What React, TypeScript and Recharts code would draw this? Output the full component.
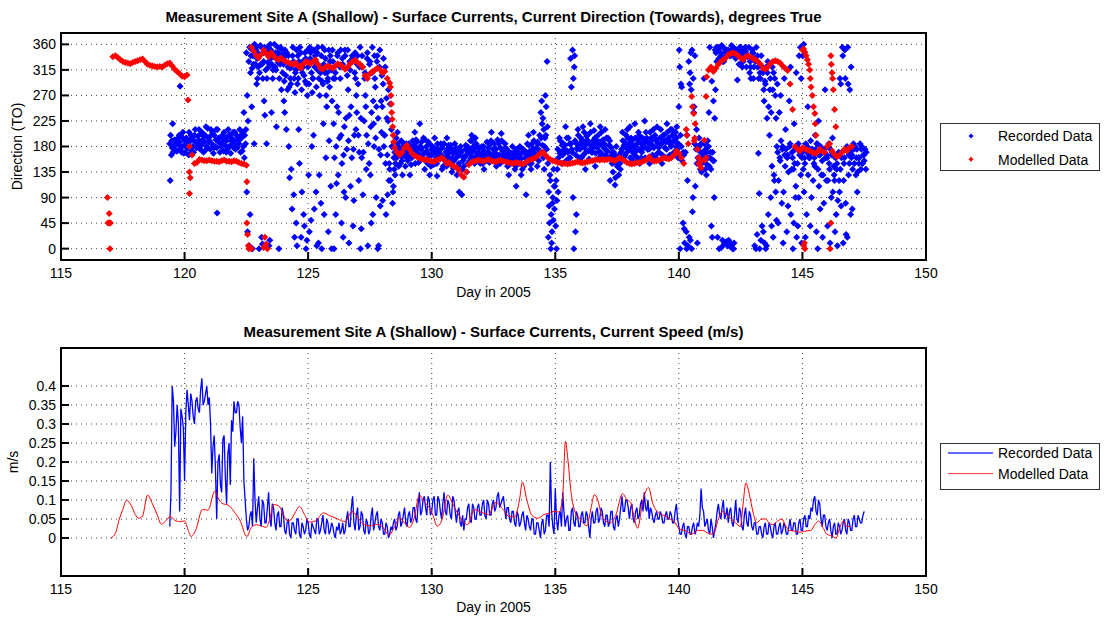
import React from 'react';
import { ScatterChart, Scatter, LineChart, Line, XAxis, YAxis, CartesianGrid, Legend } from 'recharts';

const N = null;
const FONT = "'Liberation Sans', Arial, Helvetica, sans-serif";

const dayTicks = [115, 120, 125, 130, 135, 140, 145, 150];
const directionTicks = [0, 45, 90, 135, 180, 225, 270, 315, 360];
const speedTicks = [0, 0.05, 0.1, 0.15, 0.2, 0.25, 0.3, 0.35, 0.4];
const seriesNames = ['Recorded Data', 'Modelled Data'];
const seriesColors = ['#0000ff', '#ff0000'];
const directionTitle = 'Measurement Site A (Shallow) - Surface Currents, Current Direction (Towards), degrees True';
const speedTitle = 'Measurement Site A (Shallow) - Surface Currents, Current Speed (m/s)';
const xLabelText = 'Day in 2005';
const directionYLabel = 'Direction (TO)';
const speedYLabel = 'm/s';

// Recorded direction (deg), samples every 0.1 day from day 119.4 (six sample layers)
const recordedDirStart = 119.4;
const recordedDirA = [
  185, 178, 192, 172, 188, 180,
  182, 178, 188, 195, 200, 185, 190, 205, 188, 180,
  190, 185, 200, 178, 195, 185, 205, 190, 180, 195,
  190, 200, 185, 195, 240, 345, 330, 352, 340, 355,
  340, 355, 330, 345, 320, 350, 338, 315, 345, 330,
  325, 305, 340, 290, 330, 315, 300, 345, 320, 335,
  320, 345, 300, 330, 355, 310, 290, 335, 300, 340,
  330, 310, 345, 300, 325, 340, 350, 315, 335, 345,
  340, 355, 320, 310, 345, 330, 355, 300, 340, 350,
  250, 200, 165, 140, 180, 170, 165, 175, 155, 168,
  170, 182, 160, 175, 188, 165, 178, 158, 172, 185,
  165, 178, 150, 172, 160, 185, 145, 168, 175, 155,
  160, 150, 170, 145, 165, 178, 160, 175, 185, 168,
  165, 180, 155, 170, 190, 160, 175, 185, 158, 172,
  160, 172, 150, 165, 145, 170, 158, 175, 150, 165,
  165, 175, 160, 185, 170, 230, 270, 150, 120, 90,
  155, 175, 190, 165, 182, 170, 160, 350, 190, 178,
  175, 190, 168, 200, 182, 170, 195, 178, 188, 165,
  180, 172, 190, 150, 165, 145, 160, 175, 188, 170,
  175, 190, 165, 185, 200, 170, 180, 195, 175, 190,
  180, 192, 170, 185, 200, 175, 190, 182, 170, 195,
  250, 180, 165, 30, 330, 280, 240, 175, 160, 185,
  165, 150, 180, 140, 260, 345, 350, 340, 355, 338,
  350, 340, 355, 335, 345, 355, 330, 348, 340, 320,
  345, 330, 320, 300, 310, 290, 330, 300, 280, 270,
  170, 155, 180, 145, 165, 185, 160, 175, 150, 170,
  170, 150, 180, 160, 175, 145, 185, 165, 155, 175,
  160, 140, 170, 120, 150, 100, 170, 160, 180, 150,
  165, 150, 175, 160, 180, 155,
];
const recordedDirB = [
  200, 170, 183, 195, 175, 205,
  170, 192, 175, 180, 210, 198, 175, 192, 200, 212,
  175, 205, 180, 210, 170, 200, 182, 175, 200, 185,
  205, 178, 210, 172, 200, 270, 355, 318, 360, 335,
  310, 325, 355, 300, 348, 325, 360, 340, 300, 352,
  295, 345, 285, 320, 300, 350, 330, 280, 305, 290,
  290, 310, 350, 285, 300, 340, 325, 270, 350, 315,
  220, 180, 240, 200, 165, 230, 190, 250, 175, 210,
  200, 230, 170, 250, 185, 215, 260, 195, 230, 165,
  290, 150, 225, 120, 100, 150, 185, 150, 180, 145,
  155, 165, 190, 150, 168, 180, 160, 192, 150, 165,
  180, 150, 185, 158, 178, 155, 175, 150, 160, 185,
  175, 165, 140, 160, 180, 155, 190, 150, 168, 178,
  180, 158, 188, 152, 165, 185, 150, 165, 190, 160,
  175, 148, 168, 155, 175, 150, 168, 145, 170, 182,
  150, 190, 178, 155, 195, 210, 250, 100, 60, 140,
  120, 160, 170, 185, 155, 195, 185, 300, 165, 200,
  195, 165, 185, 172, 205, 190, 168, 200, 170, 192,
  165, 195, 160, 135, 125, 155, 140, 190, 165, 195,
  160, 170, 195, 160, 175, 195, 160, 175, 205, 165,
  200, 168, 195, 165, 178, 205, 165, 200, 190, 175,
  320, 155, 10, 200, 290, 350, 185, 150, 180, 150,
  185, 170, 145, 295, 90, 330, 0, 358, 8, 350,
  5, 358, 10, 350, 325, 340, 350, 320, 355, 335,
  320, 355, 300, 340, 280, 320, 250, 240, 310, 230,
  120, 190, 100, 175, 135, 60, 140, 110, 185, 130,
  140, 185, 130, 190, 120, 175, 140, 180, 130, 160,
  120, 175, 100, 160, 85, 140, 340, 300, 355, 170,
  140, 180, 135, 185, 150, 175,
];
const recordedDirC = [
  165, 190, 172, 182, 198, 168,
  195, 165, 200, 170, 188, 178, 202, 170, 215, 195,
  210, 168, 192, 188, 185, 172, 195, 210, 168, 205,
  175, 195, 170, 205, 185, 225, 310, 340, 325, 345,
  358, 300, 345, 328, 360, 300, 320, 355, 325, 310,
  350, 280, 318, 340, 275, 290, 355, 310, 345, 270,
  355, 275, 320, 345, 270, 295, 350, 310, 285, 260,
  160, 250, 195, 150, 215, 175, 235, 160, 200, 240,
  170, 160, 225, 200, 150, 240, 180, 250, 175, 205,
  180, 265, 120, 210, 160, 195, 145, 190, 170, 185,
  185, 148, 172, 192, 152, 175, 195, 170, 188, 145,
  148, 168, 160, 185, 145, 170, 160, 182, 142, 170,
  145, 180, 155, 175, 150, 190, 172, 195, 155, 150,
  150, 170, 165, 185, 155, 175, 192, 150, 172, 185,
  145, 165, 180, 140, 160, 180, 140, 160, 185, 150,
  185, 160, 145, 200, 220, 180, 330, 45, 30, 70,
  85, 195, 150, 175, 195, 160, 175, 320, 185, 160,
  160, 205, 198, 158, 170, 208, 182, 160, 205, 178,
  195, 160, 178, 170, 180, 130, 170, 160, 200, 180,
  195, 155, 180, 205, 160, 185, 205, 160, 185, 210,
  160, 185, 210, 200, 160, 188, 210, 165, 205, 160,
  200, 45, 170, 5, 15, 90, 110, 160, 140, 170,
  140, 190, 160, 170, 350, 20, 355, 15, 345, 5,
  340, 0, 345, 297, 355, 320, 345, 338, 310, 350,
  5, 25, 0, 40, 10, 230, 200, 145, 120, 180,
  240, 80, 300, 30, 260, 140, 220, 20, 340, 10,
  100, 60, 160, 90, 150, 30, 110, 130, 80, 120,
  185, 90, 145, 60, 170, 75, 120, 25, 130, 320,
  185, 130, 160, 140, 165, 140,
];
const recordedDirD = [
  120, 220, N, N, 286, N,
  N, N, N, N, N, N, N, N, N, N,
  N, N, N, 63, N, N, N, N, N, N,
  N, N, N, N, 160, 100, 5, 250, 185, 290,
  0, 20, 260, 185, 5, 240, N, 215, 0, 280,
  260, 210, 180, 140, 95, 45, 210, 20, 60, 0,
  130, 50, 200, 100, 10, 80, 220, 160, 30, 110,
  300, 60, 130, 350, 20, 90, 280, 110, 40, 300,
  290, 0, 95, 270, 5, 130, 60, 285, 0, 75,
  85, 320, 95, 255, 80, 130, 205, N, 130, N,
  N, 130, N, 205, N, 220, N, 140, N, 130,
  N, 195, 128, N, 140, N, 195, N, 135, N,
  130, 100, 95, N, 135, N, 200, N, N, N,
  N, 140, N, N, 205, N, 145, N, 203, N,
  N, 130, N, N, 110, N, 130, N, 95, 200,
  140, 205, N, 175, 240, 160, 200, 20, 0, 50,
  40, 100, N, N, 215, N, 335, 90, 30, 210,
  N, 215, 140, N, 220, N, 145, N, 215, N,
  210, N, 120, N, 112, N, 150, 205, N, 210,
  215, N, 220, N, 150, N, 225, N, 150, N,
  N, 215, N, 150, N, 220, N, 210, N, 215,
  350, 285, 35, 0, 20, 0, 250, 210, 195, 135,
  300, 130, 240, 40, 155, 355, 335, 2, 330, 12,
  15, 8, 0, N, N, N, N, N, N, 300,
  300, 0, 168, 15, 30, 0, 60, 90, 20, 100,
  45, 270, 10, 210, 75, 320, 0, 90, 40, 355,
  340, 20, 250, 40, N, 200, 0, 70, 20, 280,
  40, 10, 195, 30, 5, 300, 355, 350, 20, 280,
  70, N, 100, N, N, N,
];
const recordedDirE = [
  N, N, N, N, N, N,
  N, N, N, N, N, N, N, N, N, N,
  N, N, N, N, N, N, N, N, N, N,
  N, N, N, N, N, 30, 60, 0, N, 300,
  N, 8, 235, N, 15, N, N, N, N, N,
  240, N, 125, 70, 20, 5, 150, 100, 40, 15,
  30, 180, 70, 5, 130, 0, 60, 250, 190, 0,
  0, 115, N, 45, 100, N, 10, N, 85, 270,
  120, 35, N, 140, N, 45, 220, 90, 5, 260,
  335, 60, 280, N, 110, N, N, N, N, N,
  N, N, N, N, N, N, N, N, N, N,
  N, N, N, N, N, N, N, N, N, N,
  N, N, N, N, N, N, N, N, N, N,
  N, N, N, N, N, N, N, N, N, N,
  N, N, N, N, N, N, N, N, N, N,
  N, N, N, N, 260, 140, 175, 75, 10, 110,
  0, N, N, N, N, N, 285, 0, 60, N,
  N, N, N, N, N, N, N, N, N, N,
  N, N, N, N, N, N, N, N, N, N,
  N, N, N, N, N, N, N, N, N, N,
  N, N, N, N, N, N, N, N, N, N,
  0, N, N, 120, 310, 65, 340, 10, N, N,
  N, N, 355, 20, 230, N, N, N, N, N,
  N, N, N, N, N, N, N, N, N, N,
  N, N, 97, N, 260, 5, N, 40, 130, 50,
  N, N, N, N, N, N, 45, 310, 90, 300,
  360, N, N, N, N, N, 225, N, N, N,
  N, N, N, N, N, 290, 10, 80, 290, 60,
  N, N, N, N, N, N,
];
const recordedDirF = [
  190, 176, 186, 200, 170, 192,
  188, 205, 170, 190, 178, 210, 182, 198, 175, 188,
  200, 178, 210, 195, 180, 192, 170, 200, 190, 178,
  182, 190, 200, 180, 210, N, 340, 325, 350, 320,
  325, 345, 315, 355, 335, 315, 345, 328, 355, 342,
  340, 320, 300, 355, 310, 340, 318, 330, 295, 350,
  335, 300, 340, 315, 320, 355, 310, 295, 330, 350,
  300, 340, 320, 335, 350, 305, 330, 340, 310, 325,
  320, 340, 300, 335, 325, 310, 340, 330, 320, 305,
  200, 230, 150, 180, 140, 160, 178, 162, 185, 160,
  162, 175, 182, 168, 178, 188, 168, 180, 165, 175,
  172, 160, 175, 165, 185, 162, 182, 158, 168, 178,
  168, 172, 160, 182, 172, 165, 180, 162, 178, 160,
  172, 165, 178, 160, 175, 168, 162, 178, 165, 178,
  168, 158, 162, 172, 168, 160, 175, 168, 162, 172,
  175, 168, 188, 170, 182, 195, 215, 130, 80, 110,
  140, 168, 182, 170, 172, 185, 170, 340, 175, 185,
  185, 178, 192, 185, 175, 182, 190, 170, 182, 185,
  172, 182, 168, 160, 150, 165, 175, 182, 178, 185,
  185, 178, 172, 192, 185, 178, 190, 185, 195, 178,
  190, 178, 185, 192, 188, 195, 180, 190, 180, 185,
  290, 170, N, N, 345, 300, N, 180, 170, 160,
  175, 160, 170, 155, 280, 355, 345, 330, 350, 345,
  345, 352, 338, 345, 350, 330, 355, 340, 330, 345,
  335, 340, 310, 320, 295, 310, 280, 320, 300, 290,
  160, 175, 165, 160, 180, 170, 150, 180, 165, 160,
  160, 170, 165, 175, 160, 185, 165, 175, 170, 165,
  150, 165, 130, 140, 120, 160, 150, 175, 165, 160,
  175, 160, 150, 175, 165, 170,
];

// Modelled direction (deg), every 0.1 day from day 117.1
const modelledDirStart = 117.1;
const modelledDir = [
  338, 340, 337, 333, 330, 328, 327, 326, 328,
  330, 331, 333, 334, 330, 325, 323, 322, 321, 320,
  321, 320, 323, 326, 327, 322, 316, 312, 308, 304,
  303, 306, 180, 165, 150, 152, 157, 156, 155, 155,
  156, 155, 154, 154, 153, 155, 156, 154, 154, 153,
  155, 154, 152, 150, 149, 147, N, 355, 348, 340,
  336, 342, 350, 344, 338, 345, 340, 335, 333, 336,
  332, 330, 328, 326, 325, 327, 322, 318, 325, 330,
  328, 326, 330, 333, 325, 318, 316, 320, 322, 320,
  318, 322, 326, 324, 320, 316, 320, 326, 330, 332,
  328, 325, 320, 305, 300, 308, 312, 315, 318, 316,
  310, 312, 300, 292, N, 178, 170, 165, 170, 178,
  182, 175, 168, 164, 162, 160, 158, 156, 157, 155,
  154, 153, 156, 158, 160, 157, 150, 152, 148, 145,
  143, 138, 130, 126, 135, 148, 152, 154, 155, 156,
  155, 154, 156, 157, 155, 154, 153, 155, 156, 154,
  153, 152, 151, 150, 152, 151, 150, 149, 152, 155,
  157, 158, 160, 164, 168, 170, 165, 160, 157, 155,
  154, 152, 151, 150, 150, 149, 150, 151, 152, 153,
  152, 151, 152, 153, 154, 155, 156, 157, 156, 157,
  156, 157, 158, 156, 155, 157, 160, 158, 155, 152,
  150, 149, 150, 152, 151, 153, 155, 157, 162, 156,
  154, 155, 156, 158, 160, 159, 158, 160, 165, 172,
  168, 160, 150, N, N, N, N, N, 150, 142,
  N, 160, 315, 320, 312, 318, 325, 330, 333, 336,
  342, 344, 345, 343, 340, 336, 333, 338, 340, 338,
  335, 333, 330, 325, 318, 316, 320, 326, 330, 331,
  330, 327, 322, 318, 314, 290, 245, 180, 175, 172,
  178, 176, 174, 172, 170, 168, 170, 175, 172, 170,
  180, 185, 172, 166, 162, 165, 170, 175, 172, 178,
  180,
];
const modelledExtraDays = [
  116.88, 116.95, 116.9, 116.95, 117.0, 116.98,
  120.14, 120.2, 120.23, 120.2,
  122.52, 122.52, 122.55, 122.58, 122.6, 122.65, 122.7,
  123.2, 123.25, 123.3, 123.35,
  128.33, 128.35, 128.37, 128.38, 128.4, 128.42, 128.44, 128.46,
  140.3, 140.32, 140.38, 140.52, 140.55, 140.6, 140.66, 140.64, 140.62, 140.75, 140.8, 140.85, 140.9, 141.03, 141.05, 141.1, 141.13,
  145.0, 145.05, 145.1, 145.15, 145.2, 145.25, 145.3, 145.32, 145.35, 145.4, 145.45, 145.5, 145.52, 145.55, 145.05, 145.1, 145.08,
  146.15, 146.17, 146.2, 146.22, 146.25, 146.3, 146.35, 146.15, 146.12,
];
const modelledExtraDirs = [
  90, 62, 45, 45, 45, 0,
  262, 135, 125, 97,
  118, 45, 25, 5, 0, 2, 0,
  2, 20, 8, 0,
  285, 270, 255, 240, 228, 215, 200, 188,
  210, 200, 185, 268, 250, 238, 220, 195, 190, 175, 160, 148, 155, 191, 156, 268, 303,
  350, 352, 346, 340, 333, 325, 315, 300, 285, 270, 250, 238, 220, 200, 5, 0, 10,
  340, 325, 310, 300, 280, 245, 215, 45, 0,
];

// Recorded speed (m/s): values at day 119.4 + 0.1*i (A) and at 119.45 + 0.1*i (B)
const recordedSpeedStart = 119.4;
const recordedSpeedA = [
  0.03, 0.40, 0.24, 0.35, 0.07, 0.32,
  0.15, 0.39, 0.31, 0.36, 0.30, 0.37, 0.33, 0.42, 0.36, 0.40,
  0.37, 0.17, 0.27, 0.05, 0.22, 0.12, 0.27, 0.09, 0.25, 0.31,
  0.36, 0.33, 0.35, 0.25, 0.15, 0.05, 0.03, 0.07, 0.21, 0.04,
  0.11, 0.03, 0.09, 0.04, 0.12, 0.03, 0.08, 0.02, 0.07, 0.03,
  0.06, 0.01, 0.05, 0.00, 0.04, 0.01, 0.05, 0.00, 0.03, 0.02,
  0.04, 0.00, 0.03, 0.01, 0.05, 0.02, 0.06, 0.01, 0.04, 0.02,
  0.03, 0.00, 0.02, 0.01, 0.04, 0.02, 0.07, 0.03, 0.11, 0.02,
  0.08, 0.03, 0.06, 0.01, 0.04, 0.02, 0.08, 0.04, 0.07, 0.02,
  0.04, 0.01, 0.03, 0.01, 0.02, 0.05, 0.03, 0.07, 0.04, 0.08,
  0.03, 0.07, 0.05, 0.08, 0.04, 0.12, 0.07, 0.11, 0.06, 0.10,
  0.07, 0.11, 0.06, 0.10, 0.05, 0.12, 0.06, 0.09, 0.05, 0.10,
  0.04, 0.08, 0.03, 0.02, 0.05, 0.09, 0.04, 0.08, 0.05, 0.09,
  0.06, 0.10, 0.05, 0.09, 0.06, 0.10, 0.08, 0.12, 0.09, 0.11,
  0.05, 0.08, 0.04, 0.07, 0.03, 0.06, 0.04, 0.07, 0.02, 0.05,
  0.02, 0.05, 0.01, 0.04, 0.00, 0.05, 0.02, 0.06, 0.20, 0.03,
  0.13, 0.02, 0.07, 0.12, 0.03, 0.06, 0.02, 0.08, 0.03, 0.06,
  0.03, 0.07, 0.04, 0.06, 0.00, 0.07, 0.04, 0.08, 0.05, 0.07,
  0.03, 0.06, 0.04, 0.07, 0.02, 0.06, 0.05, 0.11, 0.07, 0.10,
  0.05, 0.09, 0.04, 0.08, 0.06, 0.10, 0.12, 0.07, 0.05, 0.07,
  0.04, 0.07, 0.05, 0.06, 0.04, 0.07, 0.05, 0.06, 0.04, 0.09,
  0.03, 0.01, 0.04, 0.00, 0.03, 0.01, 0.04, 0.02, 0.03, 0.13,
  0.07, 0.04, 0.02, 0.05, 0.00, 0.04, 0.09, 0.05, 0.10, 0.06,
  0.04, 0.08, 0.03, 0.10, 0.04, 0.07, 0.02, 0.08, 0.03, 0.06,
  0.02, 0.04, 0.01, 0.03, 0.00, 0.04, 0.01, 0.03, 0.00, 0.04,
  0.01, 0.04, 0.02, 0.03, 0.01, 0.05, 0.02, 0.04, 0.01, 0.05,
  0.02, 0.06, 0.03, 0.05, 0.07, 0.11, 0.06, 0.09, 0.03, 0.06,
  0.02, 0.05, 0.00, 0.04, 0.01, 0.03, 0.02, 0.05, 0.01, 0.04,
  0.02, 0.06, 0.03, 0.05, 0.04, 0.07,
];
const recordedSpeedB = [
  0.12, 0.36, 0.28, 0.30, 0.34, 0.29,
  0.33, 0.35, 0.38, 0.32, 0.36, 0.34, 0.39, 0.35, 0.38, 0.35,
  0.30, 0.24, 0.18, 0.20, 0.14, 0.26, 0.16, 0.22, 0.14, 0.28,
  0.33, 0.36, 0.29, 0.32, 0.10, 0.02, 0.06, 0.03, 0.10, 0.08,
  0.05, 0.10, 0.04, 0.08, 0.05, 0.09, 0.04, 0.06, 0.03, 0.08,
  0.02, 0.04, 0.01, 0.04, 0.02, 0.05, 0.01, 0.04, 0.01, 0.05,
  0.01, 0.04, 0.02, 0.05, 0.01, 0.04, 0.02, 0.05, 0.01, 0.04,
  0.01, 0.03, 0.04, 0.02, 0.01, 0.05, 0.03, 0.08, 0.04, 0.06,
  0.02, 0.07, 0.02, 0.05, 0.01, 0.06, 0.02, 0.06, 0.03, 0.05,
  0.01, 0.04, 0.00, 0.03, 0.04, 0.02, 0.06, 0.03, 0.06, 0.04,
  0.06, 0.04, 0.08, 0.05, 0.09, 0.06, 0.10, 0.08, 0.11, 0.06,
  0.10, 0.06, 0.11, 0.07, 0.09, 0.07, 0.10, 0.06, 0.11, 0.07,
  0.07, 0.04, 0.06, 0.05, 0.08, 0.05, 0.09, 0.05, 0.08, 0.06,
  0.09, 0.06, 0.10, 0.06, 0.09, 0.07, 0.11, 0.08, 0.10, 0.08,
  0.08, 0.05, 0.07, 0.04, 0.07, 0.03, 0.06, 0.04, 0.06, 0.03,
  0.05, 0.01, 0.04, 0.02, 0.04, 0.01, 0.06, 0.03, 0.07, 0.01,
  0.05, 0.06, 0.03, 0.07, 0.05, 0.02, 0.07, 0.04, 0.07, 0.03,
  0.06, 0.04, 0.07, 0.03, 0.05, 0.04, 0.07, 0.04, 0.08, 0.04,
  0.06, 0.03, 0.07, 0.03, 0.05, 0.03, 0.08, 0.07, 0.10, 0.08,
  0.08, 0.05, 0.07, 0.05, 0.09, 0.07, 0.08, 0.10, 0.08, 0.05,
  0.06, 0.05, 0.07, 0.04, 0.06, 0.05, 0.07, 0.04, 0.07, 0.05,
  0.01, 0.03, 0.01, 0.03, 0.01, 0.03, 0.01, 0.04, 0.06, 0.08,
  0.03, 0.05, 0.01, 0.03, 0.02, 0.07, 0.06, 0.08, 0.05, 0.08,
  0.07, 0.04, 0.06, 0.05, 0.08, 0.03, 0.06, 0.04, 0.07, 0.03,
  0.04, 0.01, 0.03, 0.01, 0.03, 0.01, 0.04, 0.01, 0.03, 0.01,
  0.03, 0.01, 0.04, 0.01, 0.03, 0.02, 0.04, 0.01, 0.04, 0.02,
  0.05, 0.03, 0.06, 0.08, 0.10, 0.07, 0.10, 0.05, 0.06, 0.03,
  0.04, 0.02, 0.03, 0.01, 0.04, 0.01, 0.04, 0.02, 0.05, 0.02,
  0.05, 0.03, 0.06, 0.04, 0.06,
];

// Modelled speed (m/s)
const modelledSpeedDays = [
  117.0, 117.2, 117.35, 117.5, 117.65, 117.85, 118.0, 118.15, 118.3, 118.5, 118.7, 118.9,
  119.06, 119.25, 119.42, 119.6, 119.8, 120.0, 120.15, 120.26, 120.45, 120.72, 120.95, 121.22,
  121.4, 121.55, 121.75, 122.0, 122.25, 122.52, 122.7, 122.9, 123.1, 123.3, 123.45, 123.6,
  123.8, 124.0, 124.15, 124.3, 124.5, 124.65, 124.85, 125.05, 125.3, 125.62, 125.9, 126.2,
  126.5, 126.77, 127.0, 127.2, 127.5, 127.8, 128.0, 128.28, 128.5, 128.7, 128.9, 129.1,
  129.3, 129.5, 129.7, 129.9, 130.05, 130.22, 130.4, 130.65, 130.85, 131.05, 131.25, 131.45,
  131.73, 132.0, 132.3, 132.6, 132.85, 133.1, 133.35, 133.55, 133.67, 133.85, 134.05, 134.3,
  134.55, 134.75, 134.95, 135.15, 135.3, 135.41, 135.52, 135.62, 135.77, 136.0, 136.28, 136.45,
  136.58, 136.72, 136.87, 137.05, 137.23, 137.45, 137.72, 137.9, 138.04, 138.2, 138.33, 138.55,
  138.77, 138.95, 139.2, 139.45, 139.64, 139.85, 140.0, 140.3, 140.52, 140.75, 140.96, 141.2,
  141.4, 141.6, 141.76, 141.95, 142.12, 142.3, 142.49, 142.6, 142.71, 142.8, 142.93, 143.05,
  143.15, 143.35, 143.51, 143.65, 143.8, 144.0, 144.17, 144.3, 144.46, 144.7, 144.9, 145.1,
  145.34, 145.5, 145.66, 145.85, 145.99, 146.2, 146.36, 146.5, 146.65, 146.8, 146.94,
];
const modelledSpeed = [
  0.000, 0.012, 0.048, 0.075, 0.099, 0.085, 0.062, 0.052, 0.058, 0.113, 0.090, 0.060,
  0.036, 0.046, 0.057, 0.047, 0.043, 0.045, 0.020, 0.004, 0.020, 0.075, 0.073, 0.123,
  0.100, 0.090, 0.087, 0.070, 0.045, 0.004, 0.028, 0.035, 0.032, 0.028, 0.050, 0.088,
  0.085, 0.062, 0.045, 0.048, 0.070, 0.083, 0.062, 0.042, 0.045, 0.066, 0.058, 0.050,
  0.043, 0.070, 0.055, 0.038, 0.032, 0.036, 0.030, 0.008, 0.030, 0.053, 0.040, 0.028,
  0.055, 0.113, 0.095, 0.080, 0.060, 0.031, 0.045, 0.113, 0.090, 0.065, 0.045, 0.035,
  0.075, 0.068, 0.062, 0.094, 0.078, 0.058, 0.055, 0.100, 0.147, 0.100, 0.060, 0.052,
  0.062, 0.065, 0.070, 0.068, 0.110, 0.254, 0.200, 0.130, 0.075, 0.050, 0.032, 0.080,
  0.114, 0.100, 0.060, 0.045, 0.040, 0.060, 0.117, 0.100, 0.095, 0.050, 0.026, 0.100,
  0.133, 0.090, 0.065, 0.058, 0.050, 0.040, 0.025, 0.018, 0.010, 0.020, 0.020, 0.012,
  0.010, 0.050, 0.070, 0.060, 0.050, 0.040, 0.030, 0.090, 0.145, 0.130, 0.090, 0.055,
  0.040, 0.050, 0.050, 0.040, 0.035, 0.045, 0.050, 0.035, 0.020, 0.018, 0.015, 0.018,
  0.020, 0.035, 0.045, 0.025, 0.010, 0.005, 0.000, 0.025, 0.045, 0.030, 0.030,
];

// ---- building the point tables from the arrays above ----
const STEP = 0.1;
const layerOffsets = [0, 0.033, 0.067, 0.017, 0.05, 0.083];
type Pt = { x: number; y: number };
const gridToPoints = (start: number, values: (number | null)[], offset = 0): Pt[] => {
  const out: Pt[] = [];
  values.forEach((v, i) => {
    if (v !== null && v !== undefined) out.push({ x: +(start + i * STEP + offset).toFixed(3), y: v });
  });
  return out;
};
const recordedDirPoints: Pt[] = [recordedDirA, recordedDirB, recordedDirC, recordedDirD, recordedDirE, recordedDirF].flatMap((layer, k) =>
  gridToPoints(recordedDirStart, layer, layerOffsets[k])
);
const modelledDirPoints: Pt[] = [
  ...gridToPoints(modelledDirStart, modelledDir),
  ...modelledExtraDays.map((d, i) => ({ x: d, y: modelledExtraDirs[i] })),
];
const recordedSpeedPoints = [
  ...gridToPoints(recordedSpeedStart, recordedSpeedA),
  ...gridToPoints(recordedSpeedStart, recordedSpeedB, 0.05),
].sort((a, b) => a.x - b.x);
const modelledSpeedPoints = modelledSpeedDays.map((d, i) => ({ x: d, y: modelledSpeed[i] }));

// ---- drawing helpers ----
const diamondPath = (cx: number, cy: number, r: number) => `M${cx},${cy - r}L${cx + r},${cy}L${cx},${cy + r}L${cx - r},${cy}Z`;
const DiamondShape = (props: any) => {
  const { cx, cy, fill } = props;
  if (cx == null || cy == null || isNaN(cx) || isNaN(cy)) return <g />;
  return <path d={diamondPath(cx, cy, 3.5)} fill={fill} />;
};

const axisLineStyle = { stroke: '#000', strokeWidth: 2, strokeLinecap: 'square' as const };
const tickLineStyle = { stroke: '#000', strokeWidth: 2 };
const tickTextStyle = { fill: '#000', fontSize: 14, fontFamily: FONT };

const titleContent = (text: string, lift: number) => (props: any) => {
  const vb = props.viewBox || { x: 0, y: 0, width: 0 };
  return (
    <text x={vb.x + vb.width / 2} y={vb.y - lift} textAnchor="middle" fontFamily={FONT} fontSize={15} fontWeight="bold" fill="#000">
      {text}
    </text>
  );
};
const xLabelContent = (text: string, drop: number) => (props: any) => {
  const vb = props.viewBox || { x: 0, y: 0, width: 0 };
  return (
    <text x={vb.x + vb.width / 2} y={vb.y + drop} textAnchor="middle" fontFamily={FONT} fontSize={14} fill="#000">
      {text}
    </text>
  );
};
const yLabelContent = (text: string, baseX: number) => (props: any) => {
  const vb = props.viewBox || { x: 0, y: 0, height: 0 };
  const cy = vb.y + vb.height / 2;
  return (
    <text x={baseX} y={cy} transform={`rotate(-90 ${baseX} ${cy})`} textAnchor="middle" fontFamily={FONT} fontSize={14} fill="#000">
      {text}
    </text>
  );
};

const MarkerLegend = () => (
  <svg width={160} height={48} style={{ display: 'block' }}>
    <rect x={0.5} y={0.5} width={159} height={47} fill="#fff" stroke="#333" />
    {seriesNames.map((name, i) => {
      const cy = 13 + i * 23.3;
      return (
        <g key={name}>
          <path d={diamondPath(31, cy, 2.5)} fill={seriesColors[i]} />
          <text x={58} y={cy + 5.3} fontFamily={FONT} fontSize={14} fill="#000">{name}</text>
        </g>
      );
    })}
  </svg>
);
const LineLegend = () => (
  <svg width={160} height={47} style={{ display: 'block' }}>
    <rect x={0.5} y={0.5} width={159} height={46} fill="#fff" stroke="#333" />
    {seriesNames.map((name, i) => {
      const cy = 10 + i * 20.6;
      return (
        <g key={name}>
          <line x1={8} x2={53} y1={cy} y2={cy} stroke={seriesColors[i]} strokeWidth={i === 0 ? 2 : 1} strokeOpacity={i === 0 ? 0.6 : 0.8} />
          <text x={58} y={cy + 5.3} fontFamily={FONT} fontSize={14} fill="#000">{name}</text>
        </g>
      );
    })}
  </svg>
);

const DirectionChart = () => (
  <ScatterChart width={1106} height={310} margin={{ top: 32, right: 179, bottom: 1, left: 0 }}>
    <CartesianGrid stroke="#000" strokeDasharray="1 4" strokeOpacity={0.75} />
    <XAxis
      dataKey="x" type="number" domain={[115, 150]} ticks={dayTicks} allowDataOverflow interval={0}
      height={49} tickSize={-8} tickMargin={16} axisLine={axisLineStyle} tickLine={tickLineStyle} tick={tickTextStyle}
      label={{ content: xLabelContent(xLabelText, 37) }}
    />
    <XAxis
      xAxisId="top" orientation="top" dataKey="x" type="number" domain={[115, 150]} ticks={dayTicks} allowDataOverflow interval={0}
      height={1} tickSize={-8} axisLine={axisLineStyle} tickLine={tickLineStyle} tick={false}
      label={{ content: titleContent(directionTitle, 10.5) }}
    />
    <YAxis
      dataKey="y" type="number" domain={[-20, 380]} ticks={directionTicks} allowDataOverflow interval={0}
      width={61} tickSize={-8} tickMargin={13} axisLine={axisLineStyle} tickLine={tickLineStyle} tick={tickTextStyle}
      label={{ content: yLabelContent(directionYLabel, 21.5) }}
    />
    <YAxis
      yAxisId="right" orientation="right" dataKey="y" type="number" domain={[-20, 380]} ticks={directionTicks} allowDataOverflow interval={0}
      width={1} tickSize={-8} axisLine={axisLineStyle} tickLine={tickLineStyle} tick={false}
    />
    <Scatter name={seriesNames[0]} data={recordedDirPoints} fill={seriesColors[0]} shape={DiamondShape} isAnimationActive={false} />
    <Scatter name={seriesNames[1]} data={modelledDirPoints} fill={seriesColors[1]} shape={DiamondShape} isAnimationActive={false} />
    <Legend layout="horizontal" align="center" verticalAlign="middle" content={MarkerLegend}
      wrapperStyle={{ left: 940, top: 123, width: 160, height: 48 }} />
  </ScatterChart>
);

const SpeedChart = () => (
  <LineChart width={1106} height={309} margin={{ top: 37, right: 179, bottom: 1, left: 0 }}>
    <CartesianGrid stroke="#000" strokeDasharray="1 4" strokeOpacity={0.75} />
    <XAxis
      dataKey="x" type="number" domain={[115, 150]} ticks={dayTicks} allowDataOverflow interval={0}
      height={42} tickSize={-8} tickMargin={16} axisLine={axisLineStyle} tickLine={tickLineStyle} tick={tickTextStyle}
      label={{ content: xLabelContent(xLabelText, 36) }}
    />
    <XAxis
      xAxisId="top" orientation="top" dataKey="x" type="number" domain={[115, 150]} ticks={dayTicks} allowDataOverflow interval={0}
      height={1} tickSize={-8} axisLine={axisLineStyle} tickLine={tickLineStyle} tick={false}
      label={{ content: titleContent(speedTitle, 10) }}
    />
    <YAxis
      dataKey="y" type="number" domain={[-0.1, 0.5]} ticks={speedTicks} allowDataOverflow interval={0}
      width={61} tickSize={-8} tickMargin={13} axisLine={axisLineStyle} tickLine={tickLineStyle} tick={tickTextStyle}
      tickFormatter={(v: number) => String(v)}
      label={{ content: yLabelContent(speedYLabel, 18) }}
    />
    <YAxis
      yAxisId="right" orientation="right" dataKey="y" type="number" domain={[-0.1, 0.5]} ticks={speedTicks} allowDataOverflow interval={0}
      width={1} tickSize={-8} axisLine={axisLineStyle} tickLine={tickLineStyle} tick={false}
    />
    <Line name={seriesNames[0]} data={recordedSpeedPoints} dataKey="y" type="linear" stroke={seriesColors[0]} strokeWidth={1.3} dot={false} isAnimationActive={false} />
    <Line name={seriesNames[1]} data={modelledSpeedPoints} dataKey="y" type="monotone" stroke={seriesColors[1]} strokeWidth={1} dot={false} isAnimationActive={false} />
    <Legend layout="horizontal" align="center" verticalAlign="middle" content={LineLegend}
      wrapperStyle={{ left: 940, top: 133, width: 160, height: 47 }} />
  </LineChart>
);

export default function App() {
  return (
    <div style={{ position: 'absolute', left: 0, top: 0, width: 1106, height: 619, background: '#fff', overflow: 'hidden' }}>
      <div style={{ position: 'absolute', left: 0, top: 0 }}>
        <DirectionChart />
      </div>
      <div style={{ position: 'absolute', left: 0, top: 310 }}>
        <SpeedChart />
      </div>
    </div>
  );
}
